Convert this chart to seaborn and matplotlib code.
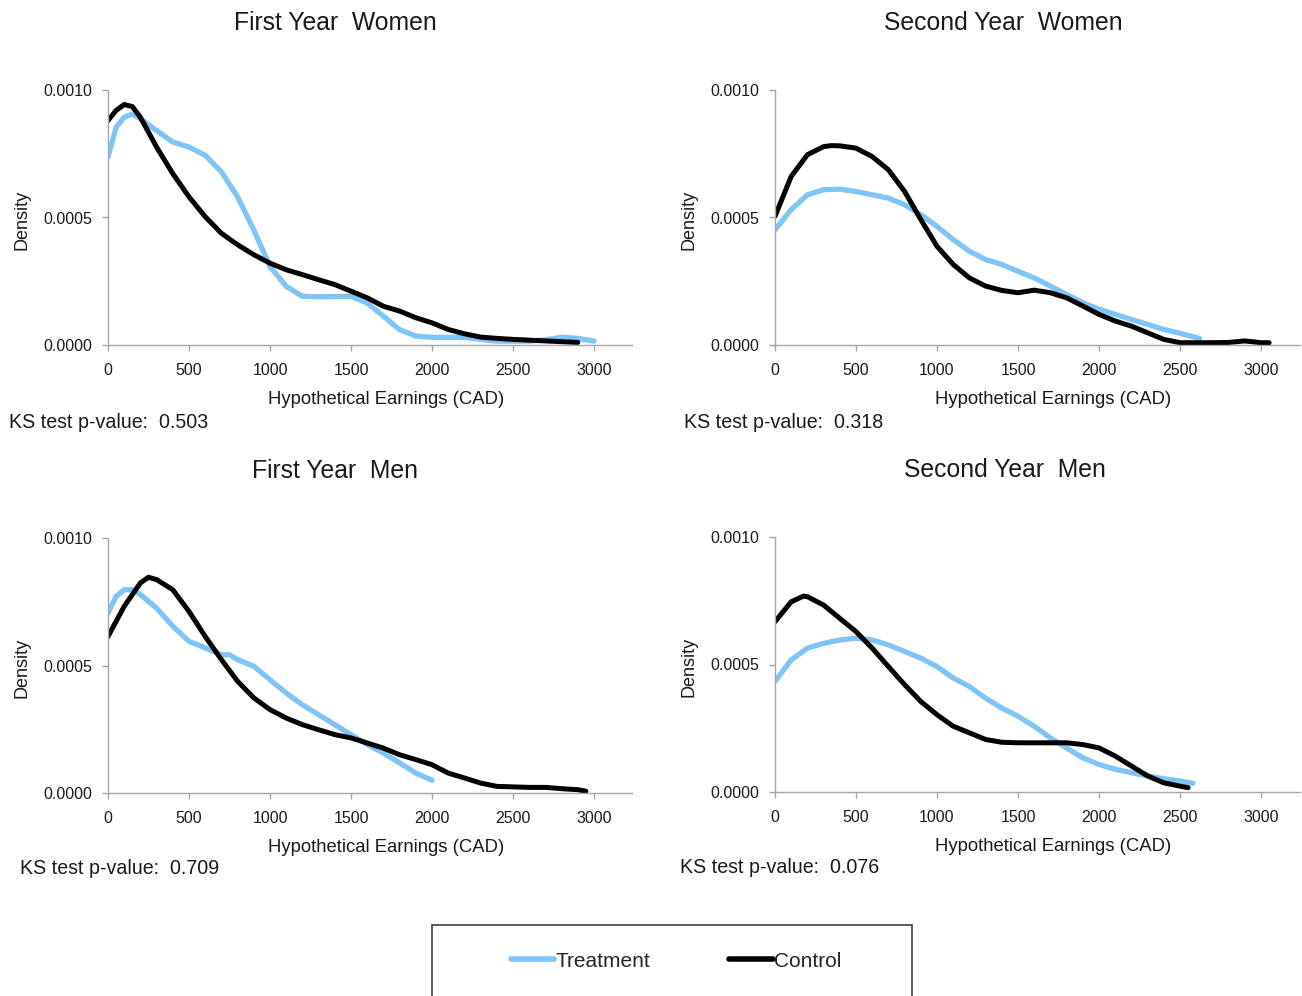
import numpy as np
import pandas as pd
import matplotlib
matplotlib.use("Agg")
import matplotlib.pyplot as plt
from matplotlib.patches import Rectangle
from matplotlib.lines import Line2D
import seaborn as sns

sns.set_theme(style="ticks")
plt.rcParams["font.family"] = ["Liberation Sans", "DejaVu Sans"]

# values (x in CAD, y density)
fyw_treat_x = [0, 50, 100, 150, 200, 300, 400, 500, 600, 700, 800, 900, 1000, 1100, 1200, 1300,
               1400, 1500, 1600, 1700, 1800, 1900, 2000, 2200, 2400, 2600, 2700, 2800, 2900, 3000]
fyw_treat_y = [0.000737, 0.000854, 0.000893, 0.000906, 0.000887, 0.000841, 0.000796, 0.000776,
               0.000744, 0.000679, 0.000581, 0.000451, 0.000308, 0.000230, 0.000191, 0.000189,
               0.000190, 0.000191, 0.000165, 0.000113, 0.000060, 0.000035, 0.000030, 0.000030,
               0.000015, 0.000015, 0.000020, 0.000030, 0.000026, 0.000015]
fyw_ctrl_x = [0, 50, 100, 150, 200, 300, 400, 500, 600, 700, 800, 900, 1000, 1100, 1200, 1300,
              1400, 1500, 1600, 1700, 1800, 1900, 2000, 2100, 2200, 2300, 2400, 2500, 2600, 2700,
              2800, 2900]
fyw_ctrl_y = [0.000880, 0.000920, 0.000943, 0.000935, 0.000893, 0.000776, 0.000672, 0.000581,
              0.000503, 0.000438, 0.000393, 0.000354, 0.000321, 0.000295, 0.000276, 0.000256,
              0.000237, 0.000211, 0.000185, 0.000152, 0.000133, 0.000107, 0.000087, 0.000061,
              0.000044, 0.000031, 0.000026, 0.000022, 0.000019, 0.000016, 0.000013, 0.000010]

syw_treat_x = [0, 100, 200, 300, 400, 500, 600, 700, 800, 900, 1000, 1100, 1200, 1300, 1400,
               1500, 1600, 1700, 1800, 1900, 2000, 2100, 2200, 2300, 2400, 2500, 2600, 2620]
syw_treat_y = [0.000452, 0.000531, 0.000589, 0.000609, 0.000611, 0.000602, 0.000589, 0.000576,
               0.000550, 0.000511, 0.000465, 0.000413, 0.000368, 0.000335, 0.000316, 0.000289,
               0.000263, 0.000231, 0.000198, 0.000166, 0.000140, 0.000120, 0.000100, 0.000081,
               0.000061, 0.000046, 0.000029, 0.000025]
syw_ctrl_x = [0, 100, 200, 300, 350, 400, 500, 600, 700, 800, 900, 1000, 1100, 1200, 1300, 1400,
              1500, 1600, 1700, 1800, 1900, 2000, 2100, 2200, 2300, 2400, 2500, 2600, 2700, 2800,
              2900, 3000, 3050]
syw_ctrl_y = [0.000505, 0.000661, 0.000746, 0.000778, 0.000782, 0.000781, 0.000772, 0.000739,
              0.000687, 0.000602, 0.000492, 0.000387, 0.000316, 0.000263, 0.000231, 0.000214,
              0.000205, 0.000215, 0.000205, 0.000185, 0.000153, 0.000120, 0.000094, 0.000074,
              0.000048, 0.000022, 0.000009, 0.000009, 0.000009, 0.000010, 0.000016, 0.000009,
              0.000009]

fym_treat_x = [0, 50, 100, 150, 200, 300, 400, 500, 600, 700, 750, 800, 900, 1000, 1100, 1200,
               1300, 1400, 1500, 1600, 1700, 1800, 1900, 2000]
fym_treat_y = [0.000706, 0.000771, 0.000797, 0.000797, 0.000778, 0.000725, 0.000654, 0.000595,
               0.000569, 0.000542, 0.000542, 0.000523, 0.000497, 0.000444, 0.000392, 0.000346,
               0.000307, 0.000268, 0.000229, 0.000190, 0.000157, 0.000118, 0.000078, 0.000050]
fym_ctrl_x = [0, 100, 200, 250, 300, 400, 500, 600, 700, 800, 900, 1000, 1100, 1200, 1300, 1400,
              1500, 1600, 1700, 1800, 1900, 2000, 2100, 2200, 2300, 2400, 2500, 2600, 2700, 2800,
              2900, 2950]
fym_ctrl_y = [0.000614, 0.000732, 0.000824, 0.000846, 0.000837, 0.000797, 0.000712, 0.000614,
              0.000523, 0.000438, 0.000373, 0.000327, 0.000294, 0.000268, 0.000248, 0.000229,
              0.000216, 0.000196, 0.000176, 0.000150, 0.000131, 0.000111, 0.000078, 0.000059,
              0.000039, 0.000026, 0.000024, 0.000022, 0.000022, 0.000017, 0.000013, 0.000007]

sym_treat_x = [0, 100, 200, 300, 400, 500, 600, 700, 800, 900, 1000, 1100, 1200, 1300, 1400,
               1500, 1600, 1700, 1800, 1900, 2000, 2100, 2200, 2300, 2400, 2500, 2580]
sym_treat_y = [0.000434, 0.000518, 0.000564, 0.000583, 0.000596, 0.000603, 0.000596, 0.000577,
               0.000551, 0.000525, 0.000492, 0.000447, 0.000414, 0.000368, 0.000329, 0.000297,
               0.000258, 0.000212, 0.000173, 0.000134, 0.000108, 0.000089, 0.000076, 0.000063,
               0.000052, 0.000043, 0.000034]
sym_ctrl_x = [0, 100, 175, 200, 300, 400, 500, 600, 700, 800, 900, 1000, 1100, 1200, 1300, 1400,
              1500, 1600, 1700, 1800, 1900, 2000, 2100, 2200, 2300, 2400, 2500, 2550]
sym_ctrl_y = [0.000668, 0.000746, 0.000768, 0.000766, 0.000733, 0.000681, 0.000629, 0.000564,
              0.000492, 0.000421, 0.000355, 0.000303, 0.000258, 0.000232, 0.000206, 0.000195,
              0.000193, 0.000193, 0.000193, 0.000193, 0.000186, 0.000173, 0.000141, 0.000102,
              0.000063, 0.000036, 0.000023, 0.000017]

titles = ["First Year  Women", "Second Year  Women", "First Year  Men", "Second Year  Men"]
ks_labels = ["KS test p-value:  0.503", "KS test p-value:  0.318",
             "KS test p-value:  0.709", "KS test p-value:  0.076"]
x_ticks = [0, 500, 1000, 1500, 2000, 2500, 3000]
y_ticks = [0.0, 0.0005, 0.0010]

panels = [
    (fyw_treat_x, fyw_treat_y, fyw_ctrl_x, fyw_ctrl_y),
    (syw_treat_x, syw_treat_y, syw_ctrl_x, syw_ctrl_y),
    (fym_treat_x, fym_treat_y, fym_ctrl_x, fym_ctrl_y),
    (sym_treat_x, sym_treat_y, sym_ctrl_x, sym_ctrl_y),
]

W, H = 1302, 996
blue = "#7FC4F6"
axis_grey = "#A6A6A6"
txt = "#1a1a1a"

# axes boxes in pixels: left, top(y of 0.0010), right, bottom(y of 0)
boxes = [(108, 90, 632, 345), (775, 90, 1300, 345), (108, 538, 632, 793), (775, 537, 1300, 792)]
title_pos = [(335, 23), (1003, 23), (335, 471), (1005, 470)]
ks_pos = [(9, 422), (684, 422), (20, 868), (680, 867)]

fig = plt.figure(figsize=(W / 100, H / 100), dpi=100)

for i, (tx, ty, cx, cy) in enumerate(panels):
    l, t, r, b = boxes[i]
    ax = fig.add_axes([l / W, 1 - b / H, (r - l) / W, (b - t) / H])
    # x range so that 3000 falls where it does in the reference
    xmax = 3000 * (r - l) / 486
    sns.lineplot(x=tx, y=ty, ax=ax, color=blue, linewidth=3.8, solid_capstyle="round",
                 solid_joinstyle="round")
    sns.lineplot(x=cx, y=cy, ax=ax, color="black", linewidth=3.6, solid_capstyle="round",
                 solid_joinstyle="round")
    ax.set_xlim(0, xmax)
    ax.set_ylim(0, 0.0010)
    ax.set_xticks(x_ticks)
    ax.set_xticklabels([str(v) for v in x_ticks])
    ax.set_yticks(y_ticks)
    ax.set_yticklabels([f"{v:.4f}" for v in y_ticks])
    sns.despine(ax=ax)
    for s in ["left", "bottom"]:
        ax.spines[s].set_color(axis_grey)
        ax.spines[s].set_linewidth(1.0)
    ax.tick_params(axis="both", colors=axis_grey, length=4, width=1.0, labelsize=11.5,
                   labelcolor=txt)
    ax.tick_params(axis="y", pad=7)
    ax.tick_params(axis="x", pad=9)
    ax.set_xlabel("Hypothetical Earnings (CAD)", fontsize=13.3, color=txt)
    ax.set_ylabel("Density", fontsize=13, color=txt)
    ax.xaxis.set_label_coords(0.53, -0.18)
    ax.yaxis.set_label_coords(-0.148, 0.49)
    fx, fy = title_pos[i]
    fig.text(fx / W, 1 - fy / H, titles[i], ha="center", va="center", fontsize=17.8, color=txt)
    kx, ky = ks_pos[i]
    fig.text(kx / W, 1 - ky / H, ks_labels[i], ha="left", va="center", fontsize=14.1, color=txt)

# legend box, its bottom edge runs off the figure as in the reference
fig.patches.append(Rectangle((432 / W, -0.02), (912 - 432) / W, 0.02 + 1 - 925 / H,
                             transform=fig.transFigure, fill=False, edgecolor="#404040",
                             linewidth=1.2))
handles = [Line2D([], [], color=blue, linewidth=4), Line2D([], [], color="black", linewidth=4)]
fig.legend(handles, ["Treatment", "Control"], loc="center", bbox_to_anchor=(676 / W, 1 - 961 / H),
           ncol=2, frameon=False, fontsize=15, handlelength=2.1, handletextpad=0.05,
           columnspacing=3.8)

fig.savefig("out.png", dpi=100)
